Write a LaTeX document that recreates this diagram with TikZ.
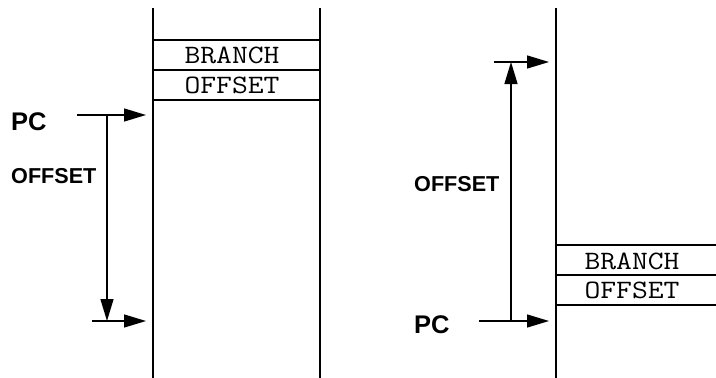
\documentclass[tikz,border=0pt]{standalone}
\usepackage{fontspec}
\setmainfont{Liberation Sans}
\newfontfamily\cellfont[FakeStretch=1.16]{Latin Modern Mono}
\usetikzlibrary{arrows.meta}
\begin{document}
\begin{tikzpicture}[x=1pt,y=-1pt,
  wall/.style={line width=2pt},
  rule/.style={line width=1.5pt},
  ptr/.style={line width=1.4pt,-{Triangle[length=22pt,width=13pt]}},
  lbl/.style={font=\fontsize{25.5}{25.5}\bfseries\selectfont,inner sep=0pt},
  lblsm/.style={font=\fontsize{21.6}{21.6}\bfseries\selectfont,inner sep=0pt},
  cell/.style={font=\cellfont\fontsize{26.5}{26.5}\selectfont,inner sep=0pt}]
\useasboundingbox (0,0) rectangle (716,378);

% ---- forward branch: memory column ----
\coordinate (lt) at (153,8);   \coordinate (lb) at (153,378);
\coordinate (rt) at (320,8);   \coordinate (rb) at (320,378);
\draw[wall] (lt) -- (lb);
\draw[wall] (rt) -- (rb);
\draw[rule] (153,40) -- (320,40);
\draw[rule] (153,70) -- (320,70);
\draw[rule] (153,100) -- (320,100);
\node[cell] (b1) at (232,55.5) {BRANCH};
\node[cell] (o1) at (232,85.5) {OFFSET};

\node[lbl,anchor=west] (pc1) at (11,121.3) {PC};
\node[lblsm,anchor=west] (off1) at (11,176) {OFFSET};
\coordinate (pcs1) at (77,115);   \coordinate (pce1) at (146,115);
\coordinate (ds1) at (107,115);   \coordinate (de1) at (107,321);
\coordinate (ts1) at (92,321);    \coordinate (te1) at (146,321);
\draw[ptr] (pcs1) -- (pce1);
\draw[ptr] (ds1) -- (de1);
\draw[ptr] (ts1) -- (te1);

% ---- backward branch: memory column ----
\coordinate (mt) at (556,8);   \coordinate (mb) at (556,378);
\draw[wall] (mt) -- (mb);
\draw[rule] (556,245) -- (716,245);
\draw[rule] (556,275) -- (716,275);
\draw[rule] (556,305) -- (716,305);
\node[cell] (b2) at (632,261) {BRANCH};
\node[cell] (o2) at (632,290) {OFFSET};

\node[lbl,anchor=west] (pc2) at (414,324.5) {PC};
\node[lblsm,anchor=west] (off2) at (414,184) {OFFSET};
\coordinate (pcs2) at (479,321);  \coordinate (pce2) at (549,321);
\coordinate (us2) at (511,321);   \coordinate (ue2) at (511,62);
\coordinate (ts2) at (494,62);    \coordinate (te2) at (549,62);
\draw[ptr] (pcs2) -- (pce2);
\draw[ptr] (us2) -- (ue2);
\draw[ptr] (ts2) -- (te2);
\end{tikzpicture}
\end{document}
